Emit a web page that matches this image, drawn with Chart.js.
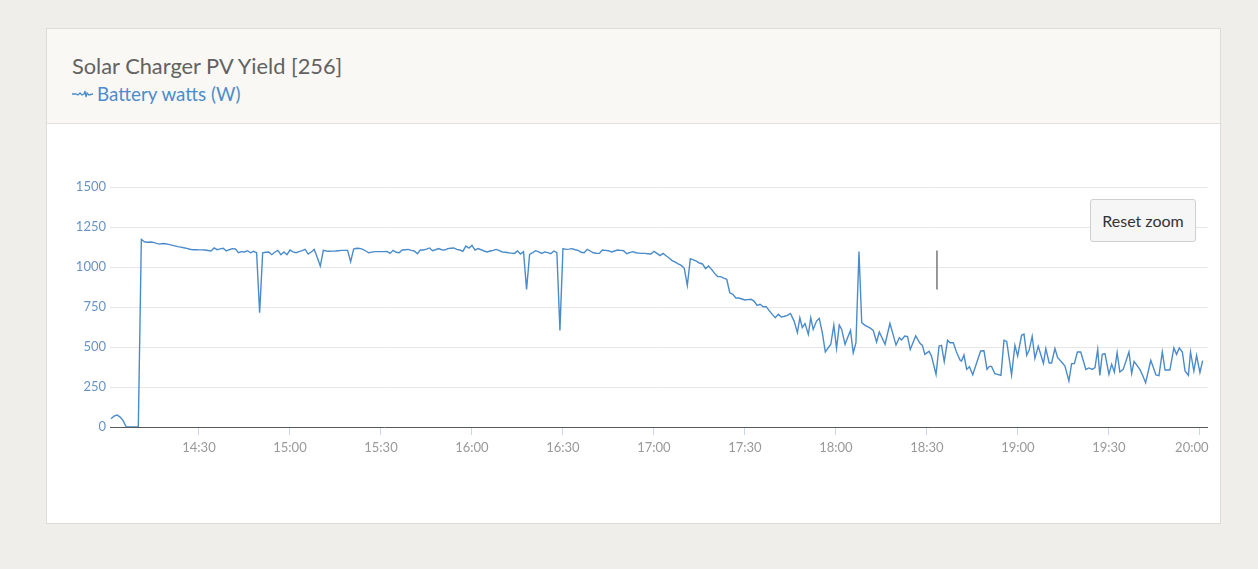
<!DOCTYPE html>
<html lang="en">
<head>
    <meta charset="UTF-8">
    <title>Solar Charger PV Yield [256]</title>
    <script src="https://cdn.jsdelivr.net/npm/chart.js"></script>
    <style>
        body { margin: 0; background: #efeeea; font-family: 'Lato', 'Open Sans', sans-serif; }
        .card { position: absolute; left: 46px; top: 28px; width: 1173px; height: 494px;
                border: 1px solid #dddcd6; background: #fff; }
        .head { height: 94px; background: #f9f8f5; border-bottom: 1px solid #e2e1dc; position: relative; }
        .title { position: absolute; left: 25px; top: 23px; font-size: 21.8px; color: #626262; }
        .legend { position: absolute; left: 25px; top: 53px; font-size: 18.8px; color: #4c8ccb; }
        .legend svg { vertical-align: 3px; margin-right: 4px; }
        #myChart { position: absolute; left: 0; top: 95px; }
        .reset { position: absolute; left: 1043px; top: 170px; width: 106px; height: 43px;
                 background: #f6f6f6; border: 1px solid #cfcfcf; border-radius: 3px;
                 font-family: 'Lato', sans-serif; font-size: 16px; color: #333; }
    </style>
</head>
<body>
    <div class="card">
        <div class="head">
            <div class="title">Solar Charger PV Yield [256]</div>
            <div class="legend"><svg width="21" height="8"><polyline points="0,4 4,4 6,5 8,3 10,5 12,4 13,1 14,7 15,3 17,5 21,4" fill="none" stroke="#4c8ccb" stroke-width="1.3"/></svg>Battery watts (W)</div>
        </div>
        <canvas id="myChart" width="1173" height="399"></canvas>
        <button class="reset">Reset zoom</button>
    </div>
    <script>
        // Battery watts
        const times = [
            '14:01','14:02','14:03','14:04','14:05','14:06','14:07','14:08','14:09','14:10',
            '14:11','14:12','14:13','14:14','14:15','14:16','14:17','14:18','14:19','14:20',
            '14:21','14:22','14:23','14:24','14:25','14:26','14:27','14:28','14:29','14:30',
            '14:31','14:32','14:33','14:34','14:35','14:36','14:37','14:38','14:39','14:40',
            '14:41','14:42','14:43','14:44','14:45','14:46','14:47','14:48','14:49','14:50',
            '14:51','14:52','14:53','14:54','14:55','14:56','14:57','14:58','14:59','15:00',
            '15:01','15:02','15:03','15:04','15:05','15:06','15:07','15:08','15:09','15:10',
            '15:11','15:12','15:13','15:14','15:15','15:16','15:17','15:18','15:19','15:20',
            '15:21','15:22','15:23','15:24','15:25','15:26','15:27','15:28','15:29','15:30',
            '15:31','15:32','15:33','15:34','15:35','15:36','15:37','15:38','15:39','15:40',
            '15:41','15:42','15:43','15:44','15:45','15:46','15:47','15:48','15:49','15:50',
            '15:51','15:52','15:53','15:54','15:55','15:56','15:57','15:58','15:59','16:00',
            '16:01','16:02','16:03','16:04','16:05','16:06','16:07','16:08','16:09','16:10',
            '16:11','16:12','16:13','16:14','16:15','16:16','16:17','16:18','16:19','16:20',
            '16:21','16:22','16:23','16:24','16:25','16:26','16:27','16:28','16:29','16:30',
            '16:31','16:32','16:33','16:34','16:35','16:36','16:37','16:38','16:39','16:40',
            '16:41','16:42','16:43','16:44','16:45','16:46','16:47','16:48','16:49','16:50',
            '16:51','16:52','16:53','16:54','16:55','16:56','16:57','16:58','16:59','17:00',
            '17:01','17:02','17:03','17:04','17:05','17:06','17:07','17:08','17:09','17:10',
            '17:11','17:12','17:13','17:14','17:15','17:16','17:17','17:18','17:19','17:20',
            '17:21','17:22','17:23','17:24','17:25','17:26','17:27','17:28','17:29','17:30',
            '17:31','17:32','17:33','17:34','17:35','17:36','17:37','17:38','17:39','17:40',
            '17:41','17:42','17:43','17:44','17:45',
            '17:46:12','17:47:18','17:48:06','17:48:54','17:49:48','17:50:54','17:51:42','17:52:30','17:53:36','17:54:30',
            '17:55:30','17:56:30','17:58:18','17:59:18','18:00:12','18:01:06','18:01:54','18:03:00','18:04:48','18:05:42',
            '18:06:36','18:07:36','18:08:30','18:09:36','18:11:12','18:12:18','18:13:24','18:14:18','18:16:12','18:17:48',
            '18:19:48','18:20:54','18:21:36','18:22:42','18:23:36','18:24:30','18:26:18','18:27:42','18:28:30','18:29:18',
            '18:30:42','18:31:30','18:33:00','18:34:00','18:34:48','18:35:42','18:36:48','18:37:36','18:38:42','18:39:48',
            '18:40:54','18:41:24','18:42:12','18:43:06','18:44:00','18:45:06','18:46:24','18:47:42','18:48:48','18:49:48',
            '18:50:36','18:51:18','18:52:24','18:54:24','18:55:24','18:56:18','18:57:54','18:59:00','18:59:54','19:01:12',
            '19:02:00','19:02:54','19:03:42','19:04:42','19:05:36','19:06:42','19:08:24','19:09:12','19:10:18','19:11:06',
            '19:12:12','19:13:06','19:14:24','19:15:30','19:16:48','19:17:42','19:18:36','19:19:36','19:20:42','19:22:24',
            '19:23:24','19:24:30','19:25:24','19:26:18','19:27:00','19:27:48','19:28:42','19:30:00','19:30:54','19:31:48',
            '19:32:42','19:33:36','19:34:42','19:36:36','19:37:30','19:38:18','19:40:12','19:41:06','19:42:06','19:43:48',
            '19:45:30','19:46:30','19:47:36','19:48:30','19:50:06','19:51:24','19:52:18','19:53:12','19:54:12','19:55:06',
            '19:56:12','19:56:54','19:58:00','19:58:54','20:00:00','20:00:54'
        ];
        const watts = [
            52,68,75,62,40,0,0,0,0,0,
            1173,1158,1155,1156,1154,1148,1143,1147,1145,1141,
            1137,1132,1127,1124,1120,1116,1111,1108,1108,1107,
            1107,1106,1103,1100,1119,1108,1113,1117,1100,1108,
            1115,1113,1089,1096,1094,1102,1089,1098,1090,714,
            1089,1092,1094,1077,1092,1104,1077,1094,1077,1106,
            1095,1089,1096,1102,1110,1081,1094,1110,1060,1006,
            1104,1100,1098,1099,1100,1102,1104,1104,1104,1033,
            1112,1117,1116,1110,1100,1089,1093,1096,1096,1096,
            1096,1097,1085,1104,1092,1089,1106,1108,1110,1104,
            1100,1083,1106,1106,1112,1119,1102,1108,1115,1108,
            1106,1115,1117,1119,1110,1106,1098,1131,1118,1135,
            1106,1115,1108,1100,1094,1100,1104,1110,1102,1094,
            1092,1089,1087,1085,1100,1081,1096,860,1079,1090,
            1102,1094,1085,1094,1090,1083,1100,1089,604,1115,
            1110,1112,1115,1108,1104,1092,1089,1110,1100,1089,
            1086,1085,1106,1104,1102,1094,1100,1106,1104,1102,
            1083,1090,1096,1089,1087,1085,1085,1083,1081,1098,
            1085,1071,1085,1070,1056,1040,1030,1019,1010,992,
            885,1052,1045,1037,1025,1019,990,1006,985,960,
            940,940,930,923,839,829,806,806,800,794,
            796,798,787,760,767,752,752,727,704,683,
            704,687,692,698,710,
            662,590,683,621,646,579,683,610,662,679,
            590,469,517,637,492,637,610,517,604,464,
            527,1096,652,635,619,604,531,594,517,648,
            512,558,544,569,565,485,569,523,510,454,
            473,444,329,506,510,408,542,527,527,465,
            419,412,450,360,377,327,402,475,477,360,
            379,379,333,323,542,535,325,510,444,573,
            581,448,481,567,429,504,398,490,400,400,
            490,433,406,381,288,396,396,469,469,360,
            369,360,371,485,323,454,458,329,392,344,
            465,344,360,469,335,410,360,323,277,417,
            325,321,469,356,356,494,454,494,469,350,
            323,469,350,448,340,415
        ];

        // thin grey hairline visible near 18:33
        const cursorTimes = ['18:33:18', '18:33:18'];
        const cursorWatts = [1102, 860];

        const xTicks = ['14:30','15:00','15:30','16:00','16:30','17:00','17:30','18:00','18:30','19:00','19:30','20:00'];
        const yTicks = [0, 250, 500, 750, 1000, 1250, 1500];
        const xStart = '14:00:40';
        const xEnd = '20:02:20';

        function toMin(s) {
            const p = s.split(':').map(Number);
            return p[0] * 60 + p[1] + (p[2] || 0) / 60;
        }
        function fmt(v) {
            const h = Math.floor(v / 60), m = Math.round(v - h * 60);
            return h + ':' + String(m).padStart(2, '0');
        }

        Chart.defaults.font.family = "'Lato', 'Open Sans', sans-serif";

        const ctx = document.getElementById('myChart').getContext('2d');
        new Chart(ctx, {
            type: 'line',
            data: {
                datasets: [{
                    label: 'Battery watts (W)',
                    data: times.map((t, i) => ({ x: toMin(t), y: watts[i] })),
                    borderColor: '#4a8bcb',
                    borderWidth: 1.4,
                    pointRadius: 0,
                    tension: 0
                }, {
                    label: 'cursor',
                    data: cursorTimes.map((t, i) => ({ x: toMin(t), y: cursorWatts[i] })),
                    borderColor: '#8a8a8a',
                    borderWidth: 1,
                    pointRadius: 0
                }]
            },
            options: {
                responsive: false,
                animation: false,
                layout: { padding: { left: 0, right: 13, top: 63, bottom: 56 } },
                plugins: { legend: { display: false }, tooltip: { enabled: false } },
                scales: {
                    x: {
                        type: 'linear',
                        min: toMin(xStart),
                        max: toMin(xEnd),
                        afterBuildTicks: s => { s.ticks = xTicks.map(t => ({ value: toMin(t) })); },
                        // fixed height, and don't let the labels push the plot edges in
                        afterFit: s => { s.height = 40; s.paddingLeft = 0; s.paddingRight = 0; },
                        grid: { drawOnChartArea: false, tickLength: 8, color: '#ccd6eb' },
                        border: { color: '#5a5a5a', width: 1 },
                        ticks: {
                            // last label is pushed left to stay inside the plot, as in the original
                            callback: (v, i, arr) => i === arr.length - 1 ? fmt(v) + '\u2003\u2002' : fmt(v),
                            color: '#999', font: { size: 13 }, padding: 5, maxRotation: 0, autoSkip: false
                        }
                    },
                    y: {
                        min: 0,
                        max: 1500,
                        afterBuildTicks: s => { s.ticks = yTicks.map(v => ({ value: v })); },
                        afterFit: s => { s.width = 63; },
                        grid: { color: '#e6e6e6', drawTicks: false },
                        border: { display: false },
                        ticks: { callback: v => String(v), color: '#6a93c4', font: { size: 13 }, padding: 4 }
                    }
                }
            }
        });
    </script>
</body>
</html>
